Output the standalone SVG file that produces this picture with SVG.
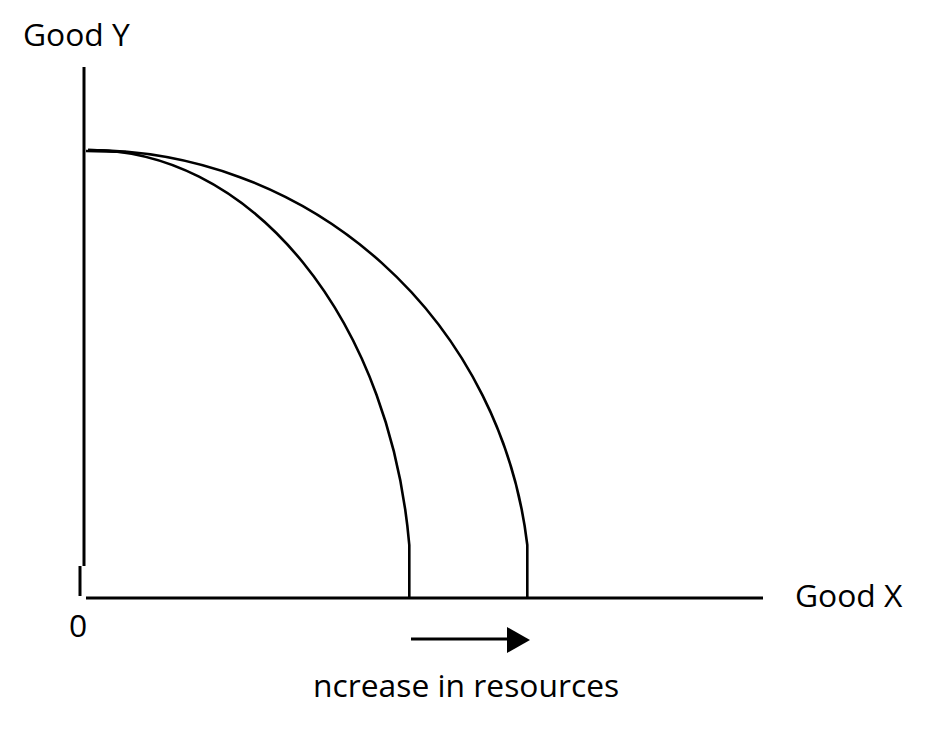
<svg xmlns="http://www.w3.org/2000/svg" width="930" height="731" viewBox="0 0 930 731">
<style>
.t{font-family:"Open Sans","Liberation Sans",sans-serif;font-size:31.8px;fill:#000}
.ax{stroke:#000;stroke-width:3;fill:none}
.cv{stroke:#000;stroke-width:2.6;fill:none}
</style>
<rect width="930" height="731" fill="#fff"/>
<g id="axes">
<line class="ax" x1="84" y1="67" x2="84" y2="566"/>
<line class="ax" x1="80" y1="566" x2="80" y2="596"/>
<line class="ax" x1="86" y1="598" x2="763" y2="598"/>
</g>
<g id="curves">
<path class="cv" d="M86 151 L126 152"/>
<path id="ppf-inner" class="cv" d="M88 150 A322 448 0 0 1 409.3 545 L409.3 598"/>
<path id="ppf-outer" class="cv" d="M88 150 A442 448 0 0 1 527.3 545 L527.3 598"/>
</g>
<g id="arrow">
<line x1="411" y1="639" x2="510" y2="639" stroke="#000" stroke-width="3"/>
<polygon points="507,627 530,640 507,653" fill="#000"/>
</g>
<g id="labels">
<text class="t" x="23" y="46">Good Y</text>
<text class="t" x="795" y="607">Good X</text>
<text class="t" x="69" y="637">0</text>
<text class="t" x="313" y="697">ncrease in resources</text>
</g>
</svg>
